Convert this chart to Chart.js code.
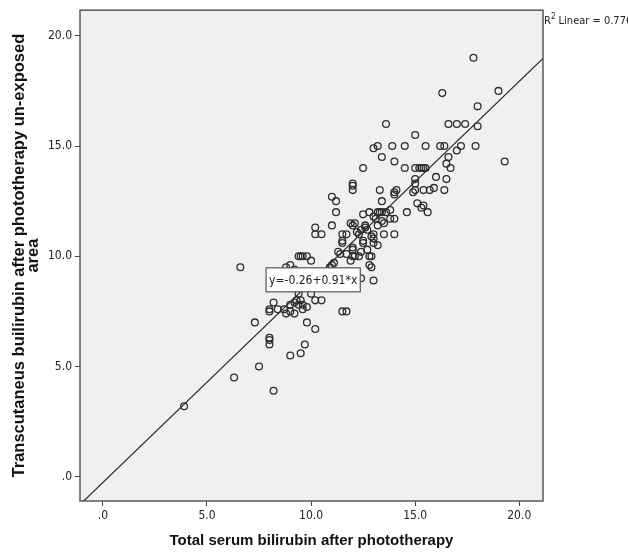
<!DOCTYPE html>
<html>
<head>
<meta charset="utf-8">
<script src="https://cdn.jsdelivr.net/npm/chart.js@4/dist/chart.umd.min.js"></script>
<style>
  body { margin: 0; background: #fff; }
</style>
</head>
<body>
<canvas id="scatter" width="628" height="552"></canvas>
<script>
// total serum bilirubin (x) vs transcutaneous bilirubin on unexposed skin (y)
var tsb = [
  17.8, 19.0, 16.3, 18.0, 13.6, 16.6, 17.0, 17.4, 18.0, 15.0,
  13.0, 13.2, 13.9, 14.5, 15.5, 16.2, 16.4, 17.2, 17.9, 17.0,
  13.4, 16.6, 19.3, 14.0, 16.5, 12.5, 14.5, 15.0, 15.2, 15.3,
  15.4, 15.5, 16.7, 16.0, 15.0, 16.5, 15.0, 12.0, 12.0, 12.0,
  13.3, 14.1, 14.0, 14.0, 15.0, 14.9, 15.4, 15.7, 15.9, 16.4,
  11.0, 11.2, 13.4, 15.1, 15.3, 15.4, 15.6, 11.2, 13.2, 13.3,
  13.4, 13.6, 13.8, 12.8, 14.6, 13.8, 14.0, 13.4, 13.5, 12.5,
  13.0, 13.1, 11.0, 11.9, 12.1, 12.0, 12.6, 13.2, 10.2, 10.2,
  10.5, 11.5, 11.7, 12.3, 12.4, 12.2, 12.6, 12.7, 13.0, 13.5,
  14.0, 11.5, 11.5, 12.5, 12.5, 13.0, 13.2, 13.0, 12.9, 11.3,
  12.0, 12.0, 12.4, 12.7, 12.8, 12.9, 11.7, 12.1, 12.3, 12.0,
  9.4, 9.5, 9.6, 9.8, 10.0, 11.1, 11.9, 6.6, 12.9, 11.0,
  10.9, 8.8, 9.0, 9.2, 12.8, 11.4, 12.4, 13.0, 10.6, 9.4,
  10.0, 9.3, 8.2, 8.0, 8.4, 8.7, 9.0, 9.2, 9.3, 9.5,
  9.6, 9.6, 10.2, 10.5, 9.2, 8.8, 9.8, 9.0, 9.4, 8.0,
  9.8, 10.2, 11.5, 11.7, 7.3, 8.0, 8.0, 8.0, 9.7, 9.5,
  9.0, 7.5, 6.3, 8.2, 3.9
];
var tcb = [
  19.0, 17.5, 17.4, 16.8, 16.0, 16.0, 16.0, 16.0, 15.9, 15.5,
  14.9, 15.0, 15.0, 15.0, 15.0, 15.0, 15.0, 15.0, 15.0, 14.8,
  14.5, 14.5, 14.3, 14.3, 14.2, 14.0, 14.0, 14.0, 14.0, 14.0,
  14.0, 14.0, 14.0, 13.6, 13.5, 13.5, 13.3, 13.3, 13.2, 13.0,
  13.0, 13.0, 12.9, 12.8, 13.0, 12.9, 13.0, 13.0, 13.1, 13.0,
  12.7, 12.5, 12.5, 12.4, 12.2, 12.3, 12.0, 12.0, 12.0, 12.0,
  12.0, 12.0, 12.1, 12.0, 12.0, 11.7, 11.7, 11.6, 11.5, 11.9,
  11.8, 11.7, 11.4, 11.5, 11.5, 11.4, 11.4, 11.4, 11.3, 11.0,
  11.0, 11.0, 11.0, 11.0, 11.2, 11.1, 11.3, 11.2, 11.0, 11.0,
  11.0, 10.7, 10.6, 10.7, 10.6, 10.6, 10.5, 10.8, 10.9, 10.2,
  10.3, 10.0, 10.2, 10.3, 10.0, 10.0, 10.1, 10.0, 10.0, 10.4,
  10.0, 10.0, 10.0, 10.0, 9.8, 9.7, 9.8, 9.5, 9.5, 9.6,
  9.5, 9.5, 9.6, 9.4, 9.6, 10.1, 9.0, 8.9, 9.2, 8.3,
  8.3, 8.8, 7.9, 7.6, 7.6, 7.6, 7.8, 7.9, 8.0, 8.0,
  7.8, 7.6, 8.0, 8.0, 7.4, 7.4, 7.7, 7.5, 7.8, 7.5,
  7.0, 6.7, 7.5, 7.5, 7.0, 6.3, 6.2, 6.0, 6.0, 5.6,
  5.5, 5.0, 4.5, 3.9, 3.2
];

// fit line reported in the figure
var fitIntercept = -0.26;
var fitSlope = 0.91;
var rSquared = 0.776;

var xTicks = [0, 5, 10, 15, 20];
var yTicks = [0, 5, 10, 15, 20];
var xRange = [-1.1, 21.14];
var yRange = [-1.1, 21.16];

var xTitle = 'Total serum bilirubin after phototherapy';
var yTitle = ['Transcutaneus builirubin after phototherapy un-exposed', 'area'];

var narrow = '"Liberation Sans Narrow", "Arial Narrow", "DejaVu Sans Condensed", sans-serif';

var points = tsb.map(function(v, i) { return { x: v, y: tcb[i] }; });
var fitLine = xRange.map(function(v) { return { x: v, y: fitIntercept + fitSlope * v }; });

function fmtTick(v) {
    return v === 0 ? '.0' : v.toFixed(1);
}

// grey plot background, frame, equation box and R2 note
var framePlugin = {
    id: 'frame',
    beforeDraw: function(chart) {
        var a = chart.chartArea, ctx = chart.ctx;
        ctx.save();
        ctx.fillStyle = '#f0f0f0';
        ctx.fillRect(a.left, a.top, a.right - a.left, a.bottom - a.top);
        ctx.restore();
    },
    afterDraw: function(chart) {
        var a = chart.chartArea, ctx = chart.ctx;
        var xs = chart.scales.x, ys = chart.scales.y;
        ctx.save();
        ctx.strokeStyle = '#5a5a5a';
        ctx.lineWidth = 1.5;
        ctx.strokeRect(a.left, a.top, a.right - a.left, a.bottom - a.top);

        // equation label sits on the fit line
        var ex = 10.1;
        var cx = xs.getPixelForValue(ex);
        var cy = ys.getPixelForValue(fitIntercept + fitSlope * ex);
        var label = 'y=' + fitIntercept.toFixed(2) + '+' + fitSlope.toFixed(2) + '*x';
        ctx.font = '12px ' + narrow;
        var w = ctx.measureText(label).width + 6;
        ctx.fillStyle = '#ffffff';
        ctx.fillRect(cx - w / 2, cy - 12, w, 24);
        ctx.strokeStyle = '#555';
        ctx.lineWidth = 1.2;
        ctx.strokeRect(cx - w / 2, cy - 12, w, 24);
        ctx.fillStyle = '#222';
        ctx.textAlign = 'center';
        ctx.textBaseline = 'middle';
        ctx.fillText(label, cx, cy + 1);

        // R2 note outside the top right corner
        ctx.textAlign = 'left';
        ctx.textBaseline = 'middle';
        ctx.font = '11px ' + narrow;
        var tx = a.right + 1, ty = a.top + 11;
        ctx.fillText('R', tx, ty);
        var rw = ctx.measureText('R').width;
        ctx.font = '8px ' + narrow;
        ctx.fillText('2', tx + rw, ty - 4);
        var sw = ctx.measureText('2').width;
        ctx.font = '11px ' + narrow;
        ctx.fillText(' Linear = ' + rSquared.toFixed(3), tx + rw + sw, ty);
        ctx.restore();
    }
};

new Chart(document.getElementById('scatter'), {
    type: 'scatter',
    data: {
        datasets: [
            {
                data: points,
                pointStyle: 'circle',
                pointRadius: 3.4,
                pointHoverRadius: 3.4,
                pointBorderWidth: 1.3,
                pointBorderColor: '#2e2e2e',
                pointBackgroundColor: 'rgba(0,0,0,0)',
                order: 1
            },
            {
                type: 'line',
                data: fitLine,
                borderColor: '#2a2a2a',
                borderWidth: 1.2,
                pointRadius: 0,
                fill: false,
                clip: 0,
                order: 2
            }
        ]
    },
    options: {
        responsive: false,
        animation: false,
        layout: { padding: { top: 10, right: 85, bottom: 0, left: 0 } },
        plugins: {
            legend: { display: false },
            tooltip: { enabled: false }
        },
        scales: {
            x: {
                type: 'linear',
                min: xRange[0],
                max: xRange[1],
                afterBuildTicks: function(scale) {
                    scale.ticks = xTicks.map(function(v) { return { value: v }; });
                },
                afterFit: function(scale) { scale.height = 51; },
                border: { display: false },
                grid: { drawOnChartArea: false, drawTicks: true, tickLength: 5, color: '#444', lineWidth: 1 },
                ticks: {
                    padding: 3,
                    color: '#222',
                    font: { family: narrow, size: 12 },
                    callback: fmtTick
                },
                title: {
                    display: true,
                    text: xTitle,
                    color: '#111',
                    font: { family: '"Liberation Sans", Arial, sans-serif', size: 15, weight: 'bold' },
                    padding: { top: 0, bottom: 2 }
                }
            },
            y: {
                type: 'linear',
                min: yRange[0],
                max: yRange[1],
                afterBuildTicks: function(scale) {
                    scale.ticks = yTicks.map(function(v) { return { value: v }; });
                },
                afterFit: function(scale) { scale.width = 80; },
                border: { display: false },
                grid: { drawOnChartArea: false, drawTicks: true, tickLength: 5, color: '#444', lineWidth: 1 },
                ticks: {
                    padding: 3,
                    color: '#222',
                    font: { family: narrow, size: 12 },
                    callback: fmtTick
                },
                title: {
                    display: true,
                    text: yTitle,
                    color: '#111',
                    font: { family: '"Liberation Sans", Arial, sans-serif', size: 16.5, weight: 'bold', lineHeight: 0.87 },
                    padding: { top: 12, bottom: 0 }
                }
            }
        }
    },
    plugins: [framePlugin]
});
</script>
</body>
</html>
